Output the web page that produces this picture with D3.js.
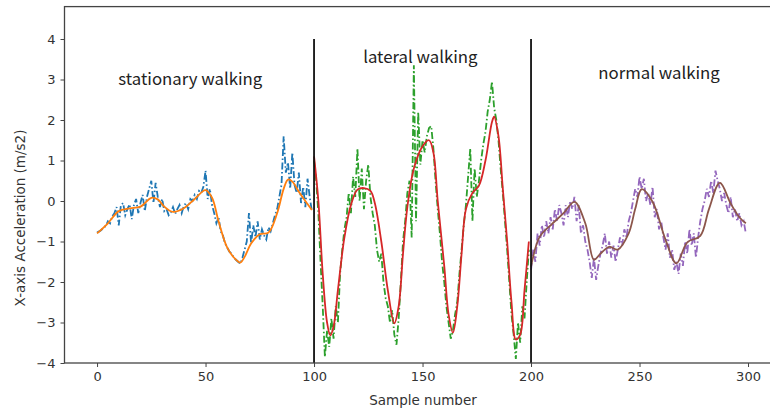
<!DOCTYPE html>
<html>
<head>
<meta charset="utf-8">
<script src="https://cdn.jsdelivr.net/npm/d3@7"></script>
<style>
body { margin: 0; background: #fff; }
svg text { font-family: "DejaVu Sans", sans-serif; }
</style>
</head>
<body>
<svg id="chart" width="770" height="413"></svg>
<script>
// raw acceleration, one value per sample
let rawStationary = [
  -0.78,-0.75,-0.72,-0.65,-0.62,-0.50,-0.55,-0.38,-0.30,-0.15,
  -0.60,-0.10,-0.05,-0.35,-0.20,-0.08,-0.45,-0.10,0.05,-0.30,
  -0.05,0.15,-0.25,0.10,0.30,0.50,-0.05,0.45,0.10,-0.15,
  0.05,-0.25,-0.20,-0.35,-0.28,-0.15,-0.32,-0.20,-0.10,-0.30,
  -0.12,-0.05,-0.20,0.05,0.00,0.15,0.05,0.25,0.20,0.35,
  0.75,0.05,0.30,-0.10,-0.30,-0.55,-0.40,-0.75,-0.85,-1.05,
  -1.15,-1.25,-1.30,-1.40,-1.45,-1.50,-1.55,-1.40,-1.20,-1.00,
  -0.30,-1.05,-0.60,-0.90,-0.50,-0.95,-0.70,-0.85,-0.95,-0.65,
  -0.75,-0.55,-0.35,-0.20,0.10,0.40,1.60,0.70,0.95,0.30,
  1.20,0.40,0.20,0.70,-0.05,0.35,-0.15,0.55,0.10,-0.25
];
let rawLateral = [
  1.0,0.5,-0.3,-1.5,-2.6,-3.85,-3.2,-3.6,-2.9,-3.4,
  -2.6,-3.0,-1.8,-1.2,-0.7,-0.4,0.2,-0.3,0.6,0.1,
  1.3,0.0,0.8,-0.2,0.5,0.9,0.1,-0.3,-0.6,-1.2,
  -1.5,-1.3,-2.0,-2.4,-2.6,-3.0,-2.7,-3.3,-3.55,-2.9,
  -2.0,-1.0,-0.5,0.2,0.5,-0.9,3.35,-0.5,2.2,0.9,
  1.5,1.2,1.6,1.8,1.85,1.3,0.5,-0.2,-0.8,-1.5,
  -2.0,-2.6,-3.0,-3.4,-3.2,-2.8,-2.5,-1.8,-1.2,-0.6,
  -0.1,0.6,1.3,-0.5,0.8,0.1,0.5,1.0,1.4,1.7,
  2.2,2.5,2.95,2.3,2.0,1.5,0.8,0.2,-0.5,-1.2,
  -2.0,-2.8,-3.3,-3.9,-3.0,-3.5,-2.6,-2.9,-2.0,-1.2
];
let rawNormal = [
  -1.7,-1.2,-1.5,-0.8,-1.1,-0.6,-0.9,-0.5,-0.8,-0.4,
  -0.7,-0.2,-0.5,-0.1,-0.3,-0.6,-0.1,-0.4,0.0,-0.2,
  0.1,-0.5,-0.1,-0.8,-0.6,-1.0,-1.2,-1.5,-1.9,-1.4,
  -1.95,-1.6,-1.3,-1.1,-0.8,-1.3,-1.0,-1.4,-1.1,-1.5,
  -1.2,-0.9,-1.1,-0.7,-0.9,-0.5,-0.3,0.0,0.3,0.1,
  0.6,0.3,0.55,0.0,0.2,-0.1,0.35,-0.4,-0.2,-0.7,
  -0.5,-0.9,-1.2,-0.8,-1.4,-1.2,-1.7,-1.5,-1.8,-1.3,
  -1.6,-1.0,-1.3,-0.7,-1.1,-0.8,-1.4,-0.9,-0.5,-0.2,
  0.0,0.3,0.1,0.5,0.2,0.75,0.5,0.3,0.0,0.2,
  -0.1,-0.3,0.1,-0.4,-0.2,-0.5,-0.3,-0.6,-0.5,-0.8
];
let rawStart = [0, 100, 200];

// filtered curves, [sample, value]
let smoothStationary = [
  [0,-0.80],[5,-0.55],[10,-0.25],[15,-0.18],[20,-0.14],[25,0.08],[28,0.04],
  [31,-0.14],[35,-0.27],[40,-0.18],[45,0.05],[50,0.27],[53,0.08],[56,-0.50],
  [60,-1.15],[64,-1.45],[66,-1.52],[68,-1.38],[71,-1.05],[75,-0.82],[79,-0.78],
  [83,-0.30],[86,0.30],[88,0.53],[90,0.48],[93,0.23],[96,0.00],[99,-0.22]
];
let smoothLateral = [
  [100,1.1],[102,0.0],[104,-1.8],[106,-3.0],[107.5,-3.32],[109,-3.1],[111,-2.2],
  [114,-0.9],[117,-0.1],[120,0.28],[123,0.32],[126,0.25],[128,-0.05],[131,-1.0],
  [134,-2.2],[137,-3.02],[139,-2.6],[141,-1.3],[143,-0.15],[146,0.8],[150,1.35],
  [153,1.5],[155,1.2],[157,0.0],[160,-1.6],[162,-2.8],[164,-3.25],[166,-2.6],
  [168,-1.3],[170,-0.2],[173,0.2],[176,0.38],[179,1.0],[182,1.95],[183,2.08],
  [185,1.6],[187,0.3],[189,-1.0],[191,-2.5],[193,-3.42],[195,-3.3],[197,-2.2],[199,-1.0]
];
let smoothNormal = [
  [200,-1.62],[204,-0.88],[209,-0.6],[215,-0.3],[220,-0.02],[225,-0.55],[229,-1.45],
  [232,-1.3],[236,-1.13],[240,-1.2],[245,-0.8],[248,-0.2],[251,0.29],[256,-0.02],
  [262,-0.96],[267,-1.54],[272,-1.02],[278,-0.86],[282,-0.2],[287,0.45],[292,-0.06],
  [296,-0.4],[299,-0.55]
];

let phaseNames = ['stationary walking', 'lateral walking', 'normal walking'];
let phaseLabelX = [43, 149, 259];
let phaseLabelY = [3.0, 3.55, 3.15];
let phaseBounds = [100, 200];

let xTicks = [0, 50, 100, 150, 200, 250, 300];
let yTicks = [-4, -3, -2, -1, 0, 1, 2, 3, 4];

let rawColors = ['#1f77b4', '#2ca02c', '#9467bd'];
let smoothColors = ['#ff7f0e', '#d62728', '#8c564b'];

let chart = d3.select('#chart');

let xScale = d3.scaleLinear().domain([-15, 314]).range([64.5, 778.4]);
let yScale = d3.scaleLinear().domain([-4, 4.8]).range([363, 6.6]);

chart.append('clipPath').attr('id', 'clip')
  .append('rect')
  .attr('x', xScale(-15)).attr('y', yScale(4.8))
  .attr('width', xScale(314) - xScale(-15))
  .attr('height', yScale(-4) - yScale(4.8));

let plot = chart.append('g').attr('clip-path', 'url(#clip)');

let rawLine = d3.line()
  .x(function(d) { return xScale(d[0]); })
  .y(function(d) { return yScale(d[1]); });

let smoothLine = d3.line()
  .curve(d3.curveCatmullRom.alpha(0.5))
  .x(function(d) { return xScale(d[0]); })
  .y(function(d) { return yScale(d[1]); });

let rawSets = [rawStationary, rawLateral, rawNormal];
let smoothSets = [smoothStationary, smoothLateral, smoothNormal];

rawSets.forEach(function(vals, k) {
  let pts = vals.map(function(v, i) { return [rawStart[k] + i, v]; });
  plot.append('path')
    .datum(pts)
    .attr('fill', 'none')
    .attr('stroke', rawColors[k])
    .attr('stroke-width', 1.8)
    .attr('stroke-dasharray', '7,2.5,1.5,2.5')
    .attr('d', rawLine);
});

smoothSets.forEach(function(pts, k) {
  plot.append('path')
    .datum(pts)
    .attr('fill', 'none')
    .attr('stroke', smoothColors[k])
    .attr('stroke-width', 1.8)
    .attr('d', smoothLine);
});

// phase boundaries
plot.selectAll('.bound')
  .data(phaseBounds)
  .enter().append('line')
  .attr('x1', function(d) { return xScale(d); })
  .attr('x2', function(d) { return xScale(d); })
  .attr('y1', yScale(4))
  .attr('y2', yScale(-4))
  .attr('stroke', '#111')
  .attr('stroke-width', 1.8);

plot.selectAll('.phase')
  .data(phaseNames)
  .enter().append('text')
  .attr('x', function(d, i) { return xScale(phaseLabelX[i]); })
  .attr('y', function(d, i) { return yScale(phaseLabelY[i]); })
  .attr('dy', '0.35em')
  .attr('text-anchor', 'middle')
  .style('font-family', '"Noto Sans CJK SC", sans-serif')
  .style('font-size', '16.8px')
  .attr('fill', '#222')
  .text(function(d) { return d; });

// axes
let xAxis = d3.axisBottom(xScale).tickValues(xTicks).tickSize(4).tickPadding(5);
let yAxis = d3.axisLeft(yScale).tickValues(yTicks).tickSize(4).tickPadding(5)
  .tickFormat(function(d) { return d < 0 ? '\u2212' + Math.abs(d) : d; });

let gx = chart.append('g').attr('transform', 'translate(0,' + yScale(-4) + ')').call(xAxis);
let gy = chart.append('g').attr('transform', 'translate(' + xScale(-15) + ',0)').call(yAxis);

[gx, gy].forEach(function(g) {
  g.select('.domain').remove();
  g.selectAll('.tick line').attr('stroke', '#444');
  g.selectAll('.tick text').attr('fill', '#333').style('font-size', '13px');
});

// frame
chart.append('rect')
  .attr('x', xScale(-15)).attr('y', yScale(4.8))
  .attr('width', xScale(314) - xScale(-15))
  .attr('height', yScale(-4) - yScale(4.8))
  .attr('fill', 'none')
  .attr('stroke', '#444')
  .attr('stroke-width', 1.3);

chart.append('text')
  .attr('x', 423).attr('y', 405)
  .attr('text-anchor', 'middle')
  .style('font-size', '13.5px')
  .attr('fill', '#333')
  .text('Sample number');

chart.append('text')
  .attr('transform', 'translate(25,218) rotate(-90)')
  .attr('text-anchor', 'middle')
  .style('font-size', '13.5px')
  .attr('fill', '#333')
  .text('X-axis Acceleration (m/s2)');
</script>
</body>
</html>
